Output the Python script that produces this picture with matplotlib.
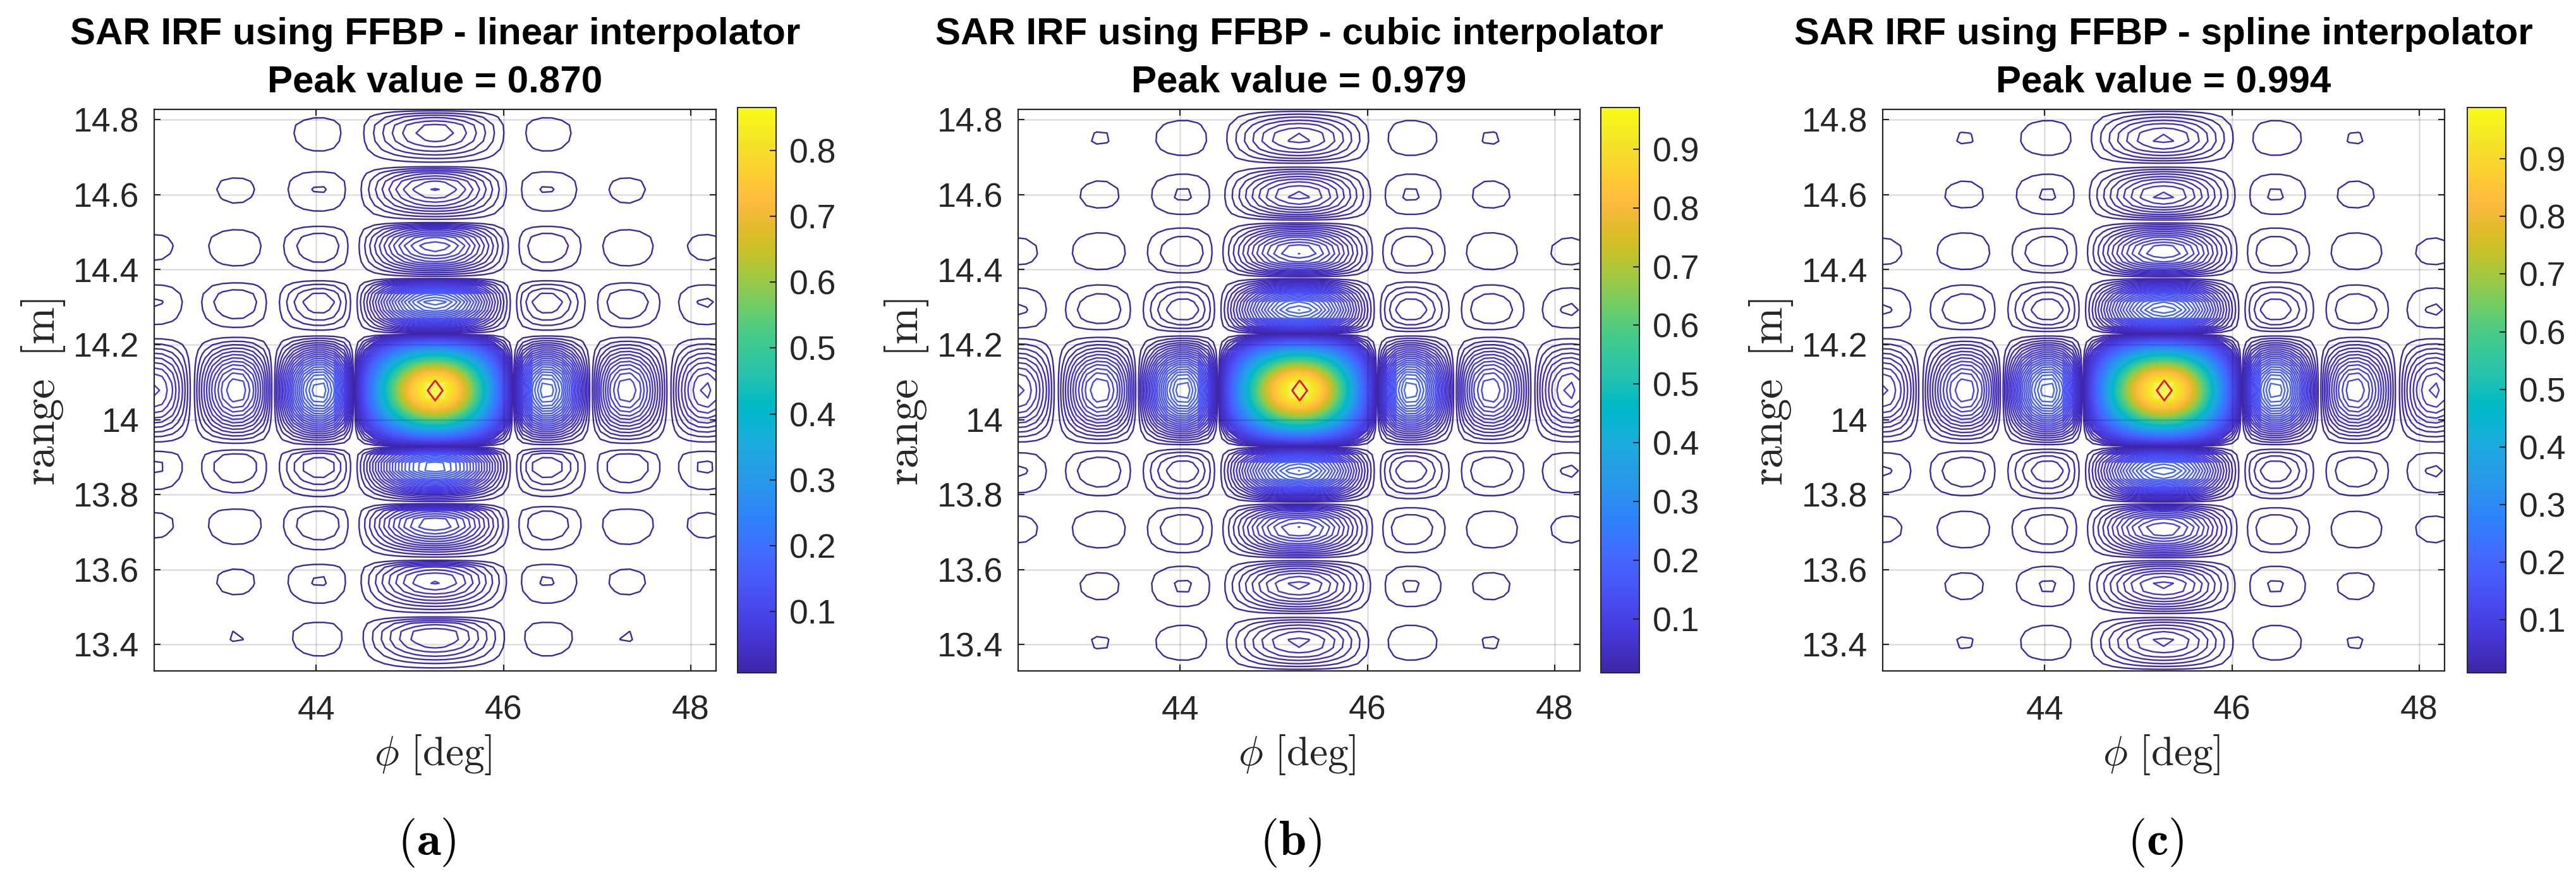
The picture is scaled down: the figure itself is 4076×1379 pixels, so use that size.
import numpy as np
import matplotlib
matplotlib.use("Agg")
import matplotlib.pyplot as plt
from matplotlib.cm import ScalarMappable
from matplotlib.colors import LinearSegmentedColormap, Normalize

WIDTH, HEIGHT = 4076, 1379
DPI = 100

plt.rcParams["font.family"] = ["Liberation Sans", "DejaVu Sans"]
plt.rcParams["mathtext.fontset"] = "cm"

# Parula colour table
parula = [
    (0.2422, 0.1504, 0.6603), (0.2504, 0.1650, 0.7076), (0.2578, 0.1818, 0.7511), (0.2647, 0.1978, 0.7952),
    (0.2706, 0.2147, 0.8364), (0.2751, 0.2342, 0.8710), (0.2783, 0.2559, 0.8991), (0.2803, 0.2782, 0.9221),
    (0.2813, 0.3006, 0.9414), (0.2810, 0.3228, 0.9579), (0.2795, 0.3447, 0.9717), (0.2760, 0.3667, 0.9829),
    (0.2699, 0.3892, 0.9906), (0.2602, 0.4123, 0.9952), (0.2440, 0.4358, 0.9988), (0.2206, 0.4603, 0.9973),
    (0.1963, 0.4847, 0.9892), (0.1834, 0.5074, 0.9798), (0.1786, 0.5289, 0.9682), (0.1764, 0.5499, 0.9520),
    (0.1687, 0.5703, 0.9359), (0.1540, 0.5902, 0.9218), (0.1460, 0.6091, 0.9079), (0.1380, 0.6276, 0.8973),
    (0.1248, 0.6459, 0.8883), (0.1113, 0.6635, 0.8763), (0.0952, 0.6798, 0.8598), (0.0689, 0.6948, 0.8394),
    (0.0297, 0.7082, 0.8163), (0.0036, 0.7203, 0.7917), (0.0067, 0.7312, 0.7660), (0.0433, 0.7411, 0.7394),
    (0.0964, 0.7500, 0.7120), (0.1408, 0.7584, 0.6842), (0.1717, 0.7670, 0.6554), (0.1938, 0.7758, 0.6251),
    (0.2161, 0.7843, 0.5923), (0.2470, 0.7918, 0.5567), (0.2906, 0.7973, 0.5188), (0.3406, 0.8008, 0.4789),
    (0.3909, 0.8029, 0.4354), (0.4456, 0.8024, 0.3909), (0.5044, 0.7993, 0.3480), (0.5616, 0.7942, 0.3045),
    (0.6174, 0.7876, 0.2612), (0.6720, 0.7793, 0.2227), (0.7242, 0.7698, 0.1910), (0.7738, 0.7598, 0.1646),
    (0.8203, 0.7498, 0.1535), (0.8634, 0.7406, 0.1596), (0.9035, 0.7330, 0.1774), (0.9393, 0.7288, 0.2100),
    (0.9728, 0.7298, 0.2394), (0.9956, 0.7434, 0.2371), (0.9970, 0.7659, 0.2199), (0.9952, 0.7893, 0.2028),
    (0.9892, 0.8136, 0.1885), (0.9786, 0.8386, 0.1766), (0.9676, 0.8639, 0.1643), (0.9610, 0.8890, 0.1537),
    (0.9597, 0.9135, 0.1423), (0.9628, 0.9373, 0.1265), (0.9691, 0.9606, 0.1064), (0.9769, 0.9839, 0.0805),
]
cmap = LinearSegmentedColormap.from_list("parula", parula, N=256)

titles = ["SAR IRF using FFBP - linear interpolator",
          "SAR IRF using FFBP - cubic interpolator",
          "SAR IRF using FFBP - spline interpolator"]
peak_values = [0.870, 0.979, 0.994]
color_low = [0.0073, 0.0082, 0.0084]
color_high = [0.865, 0.971, 0.989]
captions = ["a", "b", "c"]

# Location of the peak
peak_phi = 45.27
peak_range = 14.078

# Normalised response against angle, from the peak outwards
phi_step_left = 0.108
phi_step_right = 0.104
phi_response = [
    1.0, 0.9745, 0.9003, 0.7842, 0.6366, 0.4705, 0.3001, 0.1392, 0.0,
    0.1083, 0.1801, 0.2139, 0.2122, 0.1810, 0.1286, 0.0650, 0.0,
    0.0573, 0.1000, 0.1238, 0.1273, 0.1120, 0.0818, 0.0424, 0.0,
    0.0390, 0.0693, 0.0871, 0.0909, 0.0811, 0.0600, 0.0314,
]

# Normalised response against range, from the peak outwards
range_step = 0.02143
range_response = [
    1.0, 0.9668, 0.8710, 0.7241, 0.5431, 0.3484, 0.1611, 0.0,
    0.1208, 0.1936, 0.2172, 0.1975, 0.1452, 0.0744, 0.0,
    0.0645, 0.1089, 0.1278, 0.1207, 0.0917, 0.0483, 0.0,
    0.0439, 0.0757, 0.0905, 0.0869, 0.0670, 0.0358, 0.0,
    0.0333, 0.0581, 0.0701, 0.0679, 0.0528, 0.0284, 0.0, 0.0269,
]

# The linear interpolator skews every range lobe towards larger range
linear_range_up = [
    1.0, 0.9668, 0.8710, 0.7241, 0.5431, 0.3484, 0.1611, 0.0,
    0.0800, 0.1500, 0.1950, 0.2150, 0.1850, 0.1050, 0.0,
    0.0450, 0.0880, 0.1150, 0.1260, 0.1090, 0.0650, 0.0,
    0.0300, 0.0600, 0.0800, 0.0890, 0.0790, 0.0480, 0.0,
    0.0220, 0.0440, 0.0590, 0.0640, 0.0600, 0.0370, 0.0, 0.0200,
]
linear_range_down = [
    1.0, 0.9668, 0.8710, 0.7241, 0.5431, 0.3484, 0.1611, 0.0,
    0.1600, 0.2120, 0.2130, 0.1720, 0.1150, 0.0500, 0.0,
    0.0850, 0.1220, 0.1270, 0.1050, 0.0720, 0.0320, 0.0,
    0.0600, 0.0850, 0.0890, 0.0760, 0.0520, 0.0250, 0.0,
    0.0450, 0.0660, 0.0680, 0.0590, 0.0400, 0.0180, 0.0, 0.0200,
]
range_up = [linear_range_up, range_response, range_response]
range_down = [linear_range_down, range_response, range_response]

phi_ticks = [44, 46, 48]
range_ticks = [13.4, 13.6, 13.8, 14.0, 14.2, 14.4, 14.6, 14.8]
range_tick_labels = ["13.4", "13.6", "13.8", "14", "14.2", "14.4", "14.6", "14.8"]
cbar_ticks = [0.1, 0.2, 0.3, 0.4, 0.5, 0.6, 0.7, 0.8, 0.9]

# Panel geometry in pixels: axes left edge, colour bar left edge, caption centre
axes_left = [244, 1611, 2979]
cbar_left = [1167, 2533, 3904]
caption_x = [675, 2042, 3411]
AXES_W, AXES_TOP, AXES_BOTTOM = 889, 173, 1061
CBAR_W, CBAR_TOP, CBAR_BOTTOM = 61, 170, 1064
INK = "#262626"
LINE = 1.7


def rect(left, top, right, bottom):
    return [left / WIDTH, 1 - bottom / HEIGHT, (right - left) / WIDTH, (bottom - top) / HEIGHT]


def fx(px):
    return px / WIDTH


def fy(px):
    return 1 - px / HEIGHT


fig = plt.figure(figsize=(WIDTH / DPI, HEIGHT / DPI), dpi=DPI, facecolor="white")

phi_half = np.asarray(phi_response)
n_phi = len(phi_half)
phi_axis = np.concatenate([
    peak_phi - phi_step_left * np.arange(n_phi - 1, 0, -1),
    peak_phi + phi_step_right * np.arange(n_phi),
])
phi_full = np.concatenate([phi_half[:0:-1], phi_half])

for i in range(3):
    up = np.asarray(range_up[i])
    down = np.asarray(range_down[i])
    n_rng = len(up)
    range_axis = peak_range + range_step * np.arange(-(n_rng - 1), n_rng)
    range_full = np.concatenate([down[:0:-1], up])
    field = peak_values[i] * np.outer(range_full, phi_full)

    left = axes_left[i]
    ax = fig.add_axes(rect(left, AXES_TOP, left + AXES_W, AXES_BOTTOM))
    norm = Normalize(color_low[i], color_high[i])
    levels = np.linspace(color_low[i], color_high[i], 100)
    ax.contour(phi_axis, range_axis, field, levels=levels, cmap=cmap, norm=norm, linewidths=LINE)
    ax.plot([peak_phi], [peak_range], linestyle="none", color="#ff0000", mfc="none", mew=1.9, ms=23,
            marker=[(0, 1), (0.75, 0), (0, -1), (-0.75, 0), (0, 1)], zorder=5)

    ax.set_xlim(42.27, 48.27)
    ax.set_ylim(13.33, 14.827)
    ax.set_xticks(phi_ticks)
    ax.set_yticks(range_ticks)
    ax.set_yticklabels(range_tick_labels)
    ax.grid(True, color="black", alpha=0.13, linewidth=1.8)
    ax.set_axisbelow(False)
    ax.tick_params(axis="both", direction="in", top=True, right=True, length=7.5, width=1.5,
                   color=INK, labelcolor=INK, labelsize=38.5)
    ax.tick_params(axis="y", pad=17)
    ax.tick_params(axis="x", pad=27)
    for spine in ax.spines.values():
        spine.set_color(INK)
        spine.set_linewidth(1.6)

    centre = left + AXES_W / 2
    fig.text(fx(centre), fy(70), titles[i], ha="center", va="baseline", fontsize=43.3, fontweight="bold",
             color="black")
    fig.text(fx(centre), fy(145), f"Peak value = {peak_values[i]:.3f}", ha="center", va="baseline",
             fontsize=43.3, fontweight="bold", color="black")
    fig.text(fx(left - 176), fy(620), r"$\mathrm{range}\;\;\mathrm{[m]}$", rotation=90, ha="center", va="center",
             fontsize=51, color=INK)
    fig.text(fx(centre - 3), fy(1193), r"$\phi\ \mathrm{[deg]}$", ha="center", va="center", fontsize=47,
             color=INK)
    fig.text(fx(caption_x[i]), fy(1352), rf"$(\mathbf{{{captions[i]}}})$", ha="center", va="baseline",
             fontsize=56, color="black")

    cax = fig.add_axes(rect(cbar_left[i], CBAR_TOP, cbar_left[i] + CBAR_W, CBAR_BOTTOM))
    cbar = fig.colorbar(ScalarMappable(norm=norm, cmap=cmap), cax=cax)
    cbar.set_ticks([t for t in cbar_ticks if color_low[i] <= t <= color_high[i]])
    cbar.ax.tick_params(direction="in", length=7.5, width=1.5, color=INK, labelcolor=INK, labelsize=38.5, pad=15)
    cbar.outline.set_edgecolor(INK)
    cbar.outline.set_linewidth(1.4)

fig.savefig("out.png", dpi=DPI, facecolor="white")
